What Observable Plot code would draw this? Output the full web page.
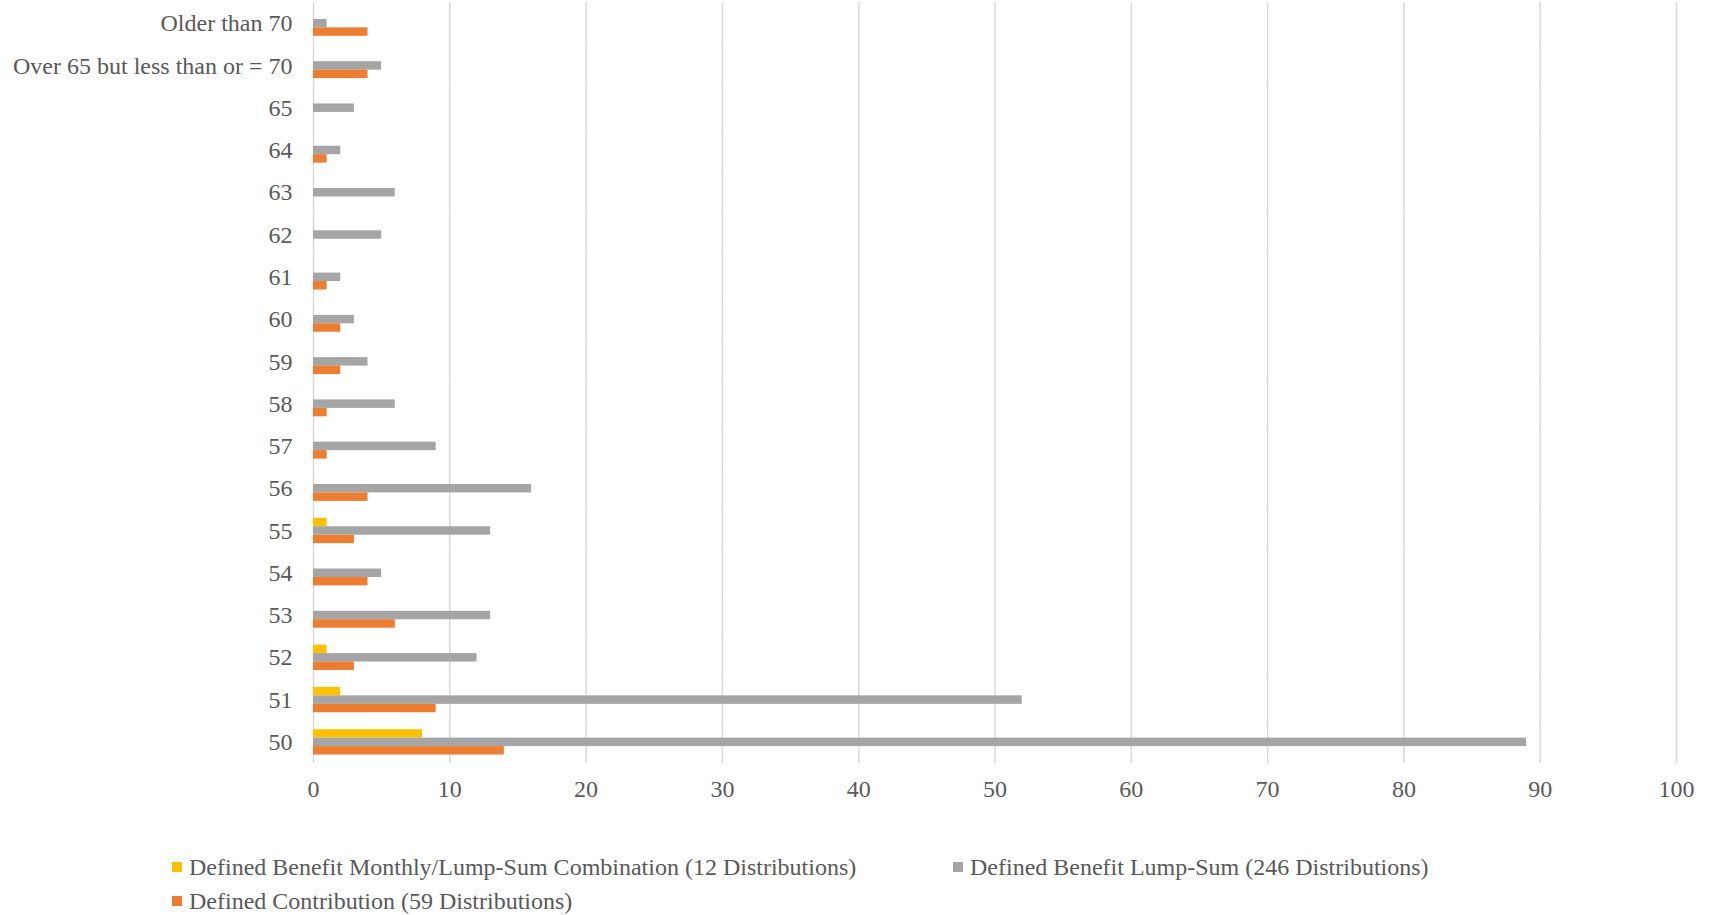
<!DOCTYPE html>
<html>
<head>
<meta charset="utf-8">
<script src="https://cdn.jsdelivr.net/npm/d3@7"></script>
<script src="https://cdn.jsdelivr.net/npm/@observablehq/plot@0.6"></script>
<style>
  html, body { margin: 0; padding: 0; background: #fff; }
  #chart { width: 1711px; }
  .legend {
    font-family: "Liberation Serif", "Times New Roman", serif;
    font-size: 24px;
    color: #595959;
    display: grid;
    grid-template-columns: 781px auto;
    grid-auto-rows: 34px;
    padding-left: 172px;
    padding-top: 35px;
    width: 1539px;
  }
  .legend .item { display: flex; align-items: center; white-space: nowrap; }
  .legend .sw { width: 10px; height: 10px; margin-right: 7px; flex: none; }
</style>
</head>
<body>
<div id="chart"></div>
<script>
// Categories (top to bottom)
const ages = ["Older than 70", "Over 65 but less than or = 70", "65", "64", "63", "62", "61", "60", "59", "58", "57", "56", "55", "54", "53", "52", "51", "50"];
// Series values per category
const comboValues        = [0, 0, 0, 0, 0, 0, 0, 0, 0, 0, 0, 0, 1, 0, 0, 1, 2, 8];
const lumpSumValues      = [1, 5, 3, 2, 6, 5, 2, 3, 4, 6, 9, 16, 13, 5, 13, 12, 52, 89];
const contributionValues = [4, 4, 0, 1, 0, 0, 1, 2, 2, 1, 1, 4, 3, 4, 6, 3, 9, 14];
// Series names and colours
const seriesNames = [
  "Defined Benefit Monthly/Lump-Sum Combination (12 Distributions)",
  "Defined Benefit Lump-Sum (246 Distributions)",
  "Defined Contribution (59 Distributions)"
];
const seriesColors = ["#FFC000", "#A5A5A5", "#ED7D31"];
// Tick labels
const xTicks = [0, 10, 20, 30, 40, 50, 60, 70, 80, 90, 100];

const seriesValues = [comboValues, lumpSumValues, contributionValues];
const rows = [];
ages.forEach((age, i) => {
  seriesNames.forEach((s, j) => rows.push({age, series: s, value: seriesValues[j][i]}));
});

const chart = Plot.plot({
  width: 1711,
  height: 815,
  marginTop: 2,
  marginBottom: 52,
  marginLeft: 313,
  marginRight: 35,
  style: {fontFamily: "'Liberation Serif', 'Times New Roman', serif", fontSize: "24px", color: "#595959", background: "#fff"},
  x: {domain: [0, 100], axis: null},
  y: {domain: seriesNames, paddingInner: 0, paddingOuter: 1.0, round: false, axis: null},
  fy: {domain: ages, padding: 0, round: false, axis: null},
  color: {domain: seriesNames, range: seriesColors},
  marks: [
    Plot.gridX(xTicks, {stroke: "#d9d9d9", strokeOpacity: 1, strokeWidth: 1.5}),
    Plot.barX(rows, {x: "value", y: "series", fy: "age", fill: "series"}),
    Plot.axisX(xTicks, {tickSize: 0, tickPadding: 16, fill: "#595959", label: null}),
    Plot.axisFy({anchor: "left", tickSize: 0, tickPadding: 21, fill: "#595959", label: null})
  ]
});
document.getElementById("chart").appendChild(chart);

const legend = document.createElement("div");
legend.className = "legend";
seriesNames.forEach((s, j) => {
  const item = document.createElement("div");
  item.className = "item";
  const sw = document.createElement("span");
  sw.className = "sw";
  sw.style.background = seriesColors[j];
  const t = document.createElement("span");
  t.textContent = s;
  item.appendChild(sw);
  item.appendChild(t);
  legend.appendChild(item);
});
document.getElementById("chart").appendChild(legend);
</script>
</body>
</html>
